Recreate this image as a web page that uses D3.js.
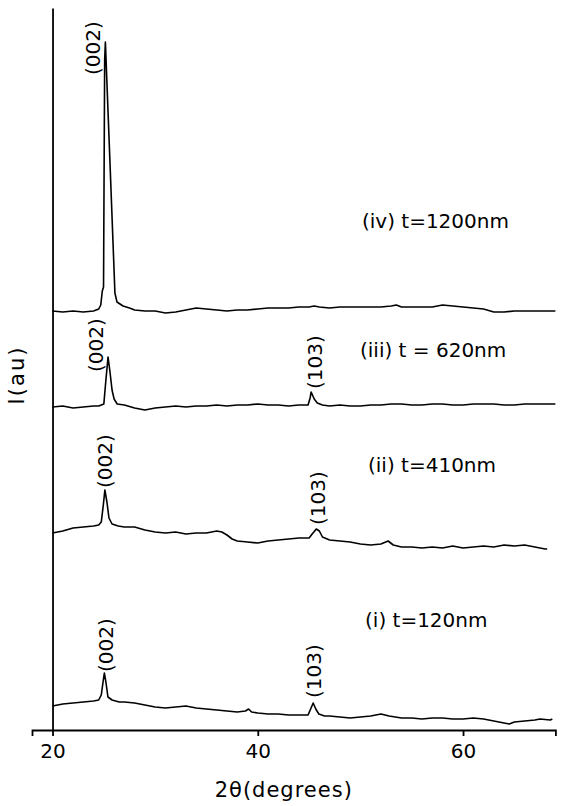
<!DOCTYPE html>
<html>
<head>
<meta charset="utf-8">
<script src="https://cdn.jsdelivr.net/npm/d3@7/dist/d3.min.js"></script>
<style>
  body { margin: 0; background: #fff; }
  text { font-family: "DejaVu Sans", sans-serif; fill: #000; }
</style>
</head>
<body>
<div id="chart"></div>
<script>
// 2theta range of the bottom axis and its ticks
var xExtent = [18, 69];
var xTicks = [20, 40, 60];
// intensity (au), all four scans stacked on one axis
var yExtent = [0, 722];

// [2theta, I]
var scan120 = [[20,24],[21,26],[22,27],[23,28],[24,29],[24.5,30],[24.75,35],[24.95,50],[25.05,57],[25.2,48],[25.4,33],[25.8,30],
  [26.5,28],[27,28],[28,27],[29,25],[30,23],[31,22],[32,23],[33,24],[34,22],[35,21],[36,20],[37,19],[38,18],[38.8,19],[39.1,21],
  [39.4,18],[40,17],[41,16],[42,16],[43,15],[44,15],[44.9,15],[45.15,21],[45.4,27],[45.65,21],[45.95,16],[46.5,14],[47,14],[48,13],
  [49,12],[50,13],[51,14],[52,16],[52.8,14],[54,12],[55,12],[56,11],[57,12],[58,12],[59,11],[60,11],[61,12],[62,11],[63,9],[64,7],
  [64.5,6],[65,8],[66,9],[67,10],[67.5,11],[68.5,10],[68.7,11]];

var scan410 = [[20,197],[21,199],[22,202],[23,203],[24,204],[24.5,205],[24.75,208],[24.95,225],[25.1,240],[25.3,228],[25.5,212],
  [25.8,206],[26.4,204],[27,203],[28,203],[29,200],[30,198],[31,197],[32,198],[33,196],[34,197],[35,197],[36,199],[36.5,198],
  [37,195],[37.5,191],[38,189],[39,188],[40,187],[41,189],[42,190],[43,191],[44,192],[45,192],[45.3,196],[45.7,201],[46,199],
  [46.3,193],[47,190],[48,189],[49,188],[50,186],[51,185],[52,186],[52.7,189],[53.2,185],[54,183],[55,183],[56,182],[57,183],
  [58,182],[59,184],[60,182],[61,183],[62,184],[63,183],[64,185],[65,184],[66,185],[67,183],[68,181],[68.2,181]];

var scan620 = [[20,323],[21,324],[22,322],[23,323],[24,324],[24.5,324],[25,326],[25.2,350],[25.41,373],[25.6,358],[25.8,340],
  [26,331],[26.3,326],[27,325],[28,322],[29,320],[30,322],[31,323],[32,324],[33,323],[34,324],[35,324],[36,325],[37,324],[38,325],
  [39,325],[40,326],[41,325],[42,325],[43,324],[44,325],[44.9,325],[45.1,332],[45.2,338],[45.5,331],[45.8,327],[46.3,325],[47,324],
  [48,325],[49,324],[50,324],[51,325],[52,325],[53,326],[54,326],[55,325],[56,325],[57,326],[58,326],[59,325],[60,325],[61,326],
  [62,326],[63,326],[64,325],[65,325],[66,326],[67,326],[68,326],[69,326]];

var scan1200 = [[20,419],[21,418],[22,419],[23,418],[24,419],[24.5,421],[24.7,425],[24.85,439],[24.97,443],[25.08,670],[25.15,688],
  [25.6,567],[26.08,437],[26.28,428],[26.87,424],[27.5,422],[28,420],[29,419],[30,419],[31,417],[32,418],[33,420],[34,422],[35,421],
  [36,420],[37,419],[38,420],[39,420],[40,421],[41,422],[42,422],[43,422],[44,423],[45,423],[45.5,424],[46,423],[47,422],[48,423],
  [49,423],[50,423],[51,423],[52,423],[53,424],[53.5,425],[54,423],[55,423],[56,423],[57,423],[58,425],[59,424],[60,423],[61,422],
  [62,421],[63,418],[64,418],[65,419],[66,419],[67,419],[68,419],[69,419]];

var scans = [scan120, scan410, scan620, scan1200];
var scanNames = ['(i) t=120nm', '(ii) t=410nm', '(iii) t = 620nm', '(iv) t=1200nm'];
// where each name sits, [2theta, I]
var nameAt = [[50.45, 103], [50.74, 258], [49.96, 373], [50.15, 502]];

// reflection labels: [text, 2theta, I at foot of label]
var peakLabels = [
  ['(002)', 25.2, 58], ['(103)', 45.48, 32],
  ['(002)', 25.12, 242], ['(103)', 45.87, 205],
  ['(002)', 24.24, 358], ['(103)', 45.58, 341],
  ['(002)', 23.95, 655]
];

var width = 563, height = 806;

var x = d3.scaleLinear().domain(xExtent).range([32, 555.4]);
var y = d3.scaleLinear().domain(yExtent).range([730, 8]);

var svg = d3.select('#chart').append('svg')
    .attr('width', width)
    .attr('height', height)
    .style('background', '#fff');

var xAxis = svg.append('g')
    .attr('transform', 'translate(0,' + y(0) + ')')
    .call(d3.axisBottom(x).tickValues(xTicks).tickSizeOuter(0).tickSize(6).tickPadding(8));

xAxis.select('.domain').attr('stroke-width', 1.8);
xAxis.selectAll('.tick line').attr('stroke-width', 1.8);
xAxis.selectAll('.tick text')
    .style('font-size', '20px')
    .attr('font-family', null);

var yAxis = svg.append('g')
    .attr('transform', 'translate(' + x(20) + ',0)')
    .call(d3.axisLeft(y).tickValues([]).tickSizeOuter(0));

yAxis.select('.domain').attr('stroke-width', 1.8);

svg.append('text')
    .attr('x', (x(20) + x(60)) / 2 + 26)
    .attr('y', 797)
    .attr('text-anchor', 'middle')
    .style('font-size', '21px')
    .style('letter-spacing', '1px')
    .text('2\u03b8(degrees)');

svg.append('text')
    .attr('transform', 'translate(24,' + y(355) + ') rotate(-90)')
    .attr('text-anchor', 'middle')
    .style('font-size', '21px')
    .style('letter-spacing', '2px')
    .text('I(au)');

var line = d3.line()
    .x(function(d) { return x(d[0]); })
    .y(function(d) { return y(d[1]); });

svg.selectAll('.scan')
    .data(scans)
  .enter().append('path')
    .attr('class', 'scan')
    .attr('fill', 'none')
    .attr('stroke', '#000')
    .attr('stroke-width', 1.6)
    .attr('stroke-linejoin', 'round')
    .attr('d', line);

svg.selectAll('.name')
    .data(scanNames)
  .enter().append('text')
    .attr('class', 'name')
    .attr('x', function(d, i) { return x(nameAt[i][0]); })
    .attr('y', function(d, i) { return y(nameAt[i][1]); })
    .style('font-size', '20px')
    .text(function(d) { return d; });

svg.selectAll('.peak')
    .data(peakLabels)
  .enter().append('text')
    .attr('class', 'peak')
    .attr('transform', function(d) {
      return 'translate(' + x(d[1]) + ',' + y(d[2]) + ') rotate(-90)';
    })
    .attr('dy', '0.36em')
    .style('font-size', '20px')
    .text(function(d) { return d[0]; });
</script>
</body>
</html>
